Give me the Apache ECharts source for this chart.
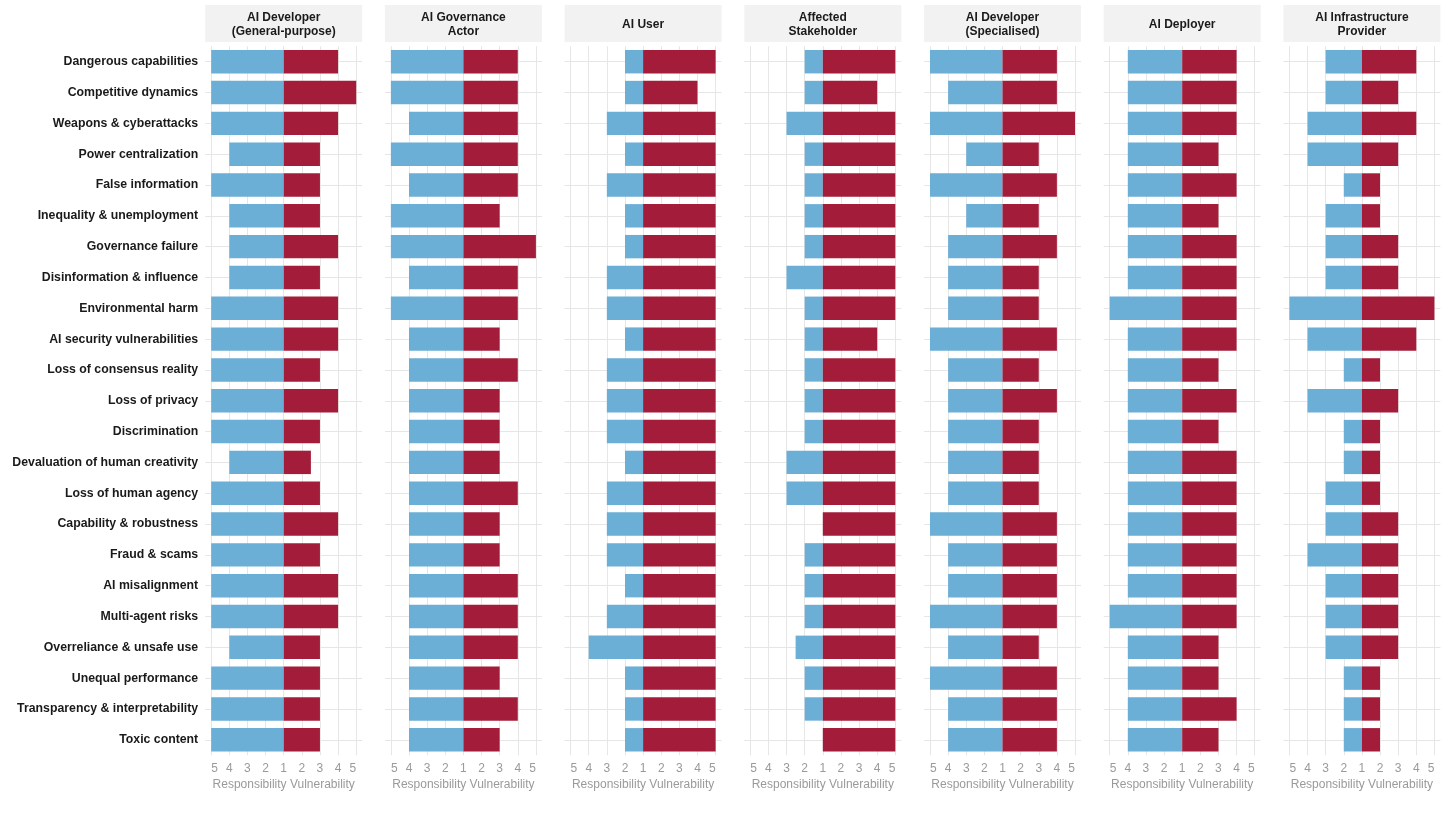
<!DOCTYPE html>
<html>
<head>
<meta charset="utf-8">
<script src="https://cdn.jsdelivr.net/npm/echarts@6/dist/echarts.min.js"></script>
<style>
  html, body { margin: 0; padding: 0; background: #fff; }
  #chart { width: 1452px; height: 816px; }
</style>
</head>
<body>
<div id="chart"></div>
<script>
// risk categories, top to bottom
var categories = [
    'Dangerous capabilities', 'Competitive dynamics', 'Weapons & cyberattacks',
    'Power centralization', 'False information', 'Inequality & unemployment',
    'Governance failure', 'Disinformation & influence', 'Environmental harm',
    'AI security vulnerabilities', 'Loss of consensus reality', 'Loss of privacy',
    'Discrimination', 'Devaluation of human creativity', 'Loss of human agency',
    'Capability & robustness', 'Fraud & scams', 'AI misalignment',
    'Multi-agent risks', 'Overreliance & unsafe use', 'Unequal performance',
    'Transparency & interpretability', 'Toxic content'
];

var actors = [
    'AI Developer\n(General-purpose)', 'AI Governance\nActor', 'AI User',
    'Affected\nStakeholder', 'AI Developer\n(Specialised)', 'AI Deployer',
    'AI Infrastructure\nProvider'
];

// scores 1-5, one array per actor
var devGeneralResp = [5, 5, 5, 4, 5, 4, 4, 4, 5, 5, 5, 5, 5, 4, 5, 5, 5, 5, 5, 4, 5, 5, 5];
var devGeneralVuln = [4, 5, 4, 3, 3, 3, 4, 3, 4, 4, 3, 4, 3, 2.5, 3, 4, 3, 4, 4, 3, 3, 3, 3];
var governanceResp = [5, 5, 4, 5, 4, 5, 5, 4, 5, 4, 4, 4, 4, 4, 4, 4, 4, 4, 4, 4, 4, 4, 4];
var governanceVuln = [4, 4, 4, 4, 4, 3, 5, 4, 4, 3, 4, 3, 3, 3, 4, 3, 3, 4, 4, 4, 3, 4, 3];
var userResp = [2, 2, 3, 2, 3, 2, 2, 3, 3, 2, 3, 3, 3, 2, 3, 3, 3, 2, 3, 4, 2, 2, 2];
var userVuln = [5, 4, 5, 5, 5, 5, 5, 5, 5, 5, 5, 5, 5, 5, 5, 5, 5, 5, 5, 5, 5, 5, 5];
var stakeholderResp = [2, 2, 3, 2, 2, 2, 2, 3, 2, 2, 2, 2, 2, 3, 3, 1, 2, 2, 2, 2.5, 2, 2, 1];
var stakeholderVuln = [5, 4, 5, 5, 5, 5, 5, 5, 5, 4, 5, 5, 5, 5, 5, 5, 5, 5, 5, 5, 5, 5, 5];
var devSpecialResp = [5, 4, 5, 3, 5, 3, 4, 4, 4, 5, 4, 4, 4, 4, 4, 5, 4, 4, 5, 4, 5, 4, 4];
var devSpecialVuln = [4, 4, 5, 3, 4, 3, 4, 3, 3, 4, 3, 4, 3, 3, 3, 4, 4, 4, 4, 3, 4, 4, 4];
var deployerResp = [4, 4, 4, 4, 4, 4, 4, 4, 5, 4, 4, 4, 4, 4, 4, 4, 4, 4, 5, 4, 4, 4, 4];
var deployerVuln = [4, 4, 4, 3, 4, 3, 4, 4, 4, 4, 3, 4, 3, 4, 4, 4, 4, 4, 4, 3, 3, 4, 3];
var infraResp = [3, 3, 4, 4, 2, 3, 3, 3, 5, 4, 2, 4, 2, 2, 3, 3, 4, 3, 3, 3, 2, 2, 2];
var infraVuln = [4, 3, 4, 3, 2, 2, 3, 3, 5, 4, 2, 3, 2, 2, 2, 3, 3, 3, 3, 3, 2, 2, 2];

var responsibility = [devGeneralResp, governanceResp, userResp, stakeholderResp,
    devSpecialResp, deployerResp, infraResp];
var vulnerability = [devGeneralVuln, governanceVuln, userVuln, stakeholderVuln,
    devSpecialVuln, deployerVuln, infraVuln];

// axis positions: 0 is score 1, left side is responsibility
var tickValues = [-4, -3, -2, -1, 0, 1, 2, 3, 4];

var FONT = '"Liberation Sans", Arial, Helvetica, sans-serif';
var BLUE = '#6baed6';
var RED = '#a31c3a';
var GRID_COLOR = '#e6e6e6';

var panelLeft = 205.2;
var panelStep = 179.7;
var panelWidth = 157;
var gridTop = 46.3;
var gridHeight = 708.9;

var grids = [], xAxes = [], yAxes = [], series = [], graphics = [];

actors.forEach(function (name, i) {
    var left = panelLeft + i * panelStep;
    grids.push({left: left, width: panelWidth, top: gridTop, height: gridHeight});

    xAxes.push({
        type: 'value',
        gridIndex: i,
        min: -4.33,
        max: 4.33,
        axisLine: {show: false},
        axisTick: {show: false, customValues: tickValues},
        axisLabel: {
            customValues: tickValues,
            formatter: function (v) { return Math.abs(v) + 1; },
            color: '#9a9a9a',
            fontSize: 12,
            fontFamily: FONT,
            margin: 7,
            alignMinLabel: 'left',
            alignMaxLabel: 'right'
        },
        splitLine: {show: true, lineStyle: {color: GRID_COLOR, width: 1}},
        name: 'Responsibility Vulnerability',
        nameLocation: 'middle',
        nameGap: 22,
        nameTextStyle: {color: '#9a9a9a', fontSize: 12, fontFamily: FONT}
    });

    yAxes.push({
        type: 'category',
        gridIndex: i,
        data: categories,
        inverse: true,
        axisLine: {show: false},
        axisTick: {show: false},
        axisLabel: {
            show: i === 0,
            color: '#1a1a1a',
            fontWeight: 'bold',
            fontSize: 12.3,
            fontFamily: FONT,
            margin: 7
        },
        splitLine: {show: true, alignWithLabel: true, lineStyle: {color: GRID_COLOR, width: 1}}
    });

    series.push({
        type: 'bar',
        name: 'Responsibility',
        xAxisIndex: i,
        yAxisIndex: i,
        data: responsibility[i].map(function (r) { return -(r - 1); }),
        barWidth: 23.4,
        barGap: '-100%',
        itemStyle: {color: BLUE}
    });
    series.push({
        type: 'bar',
        name: 'Vulnerability',
        xAxisIndex: i,
        yAxisIndex: i,
        data: vulnerability[i].map(function (v) { return v - 1; }),
        barWidth: 23.4,
        barGap: '-100%',
        itemStyle: {color: RED}
    });

    // facet strip
    graphics.push({
        type: 'rect',
        shape: {x: left, y: 5, width: panelWidth, height: 37},
        style: {fill: '#f2f2f2'},
        silent: true
    });
    graphics.push({
        type: 'text',
        x: left + panelWidth / 2,
        y: 24.5,
        style: {
            text: name,
            align: 'center',
            verticalAlign: 'middle',
            font: 'bold 12px ' + FONT,
            fill: '#1a1a1a',
            lineHeight: 14.6
        },
        silent: true
    });
});

var myChart = echarts.init(document.getElementById('chart'), null, {renderer: 'canvas'});
myChart.setOption({
    animation: false,
    backgroundColor: '#ffffff',
    grid: grids,
    xAxis: xAxes,
    yAxis: yAxes,
    series: series,
    graphic: graphics
});
</script>
</body>
</html>
